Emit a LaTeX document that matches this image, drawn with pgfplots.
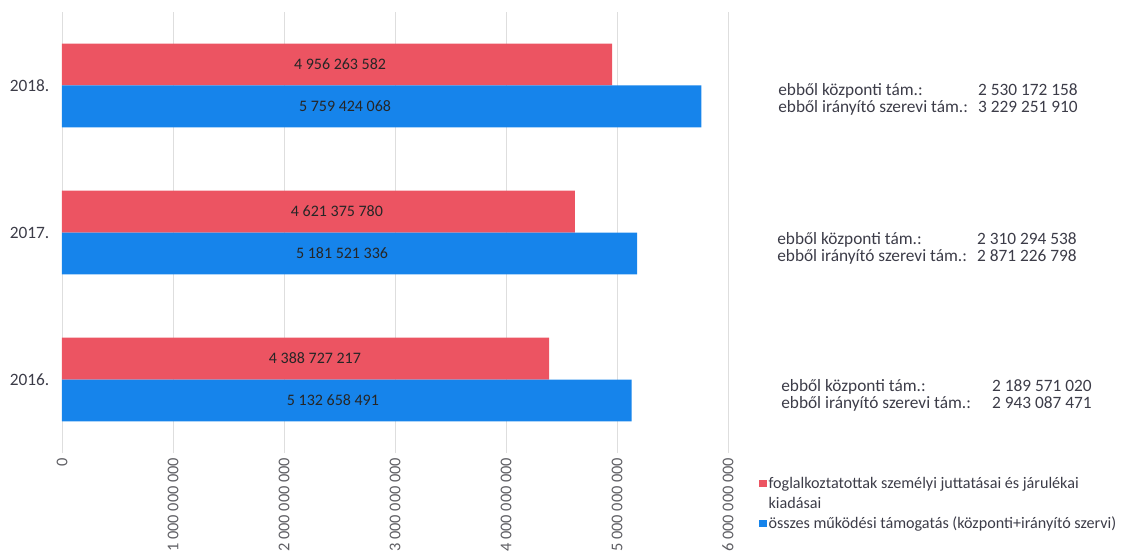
\documentclass[border=0pt]{standalone}
\usepackage{pgfplots}
\pgfplotsset{compat=1.18}
\usepackage{fontspec}
\setmainfont{Carlito}
\definecolor{barred}{RGB}{236,84,98}
\definecolor{barblue}{RGB}{22,132,235}
\definecolor{gridc}{RGB}{222,222,222}
\definecolor{txt}{RGB}{60,60,72}
\definecolor{ticktxt}{RGB}{95,95,100}
\begin{document}
\begin{tikzpicture}
\path[use as bounding box] (0pt,0pt) rectangle (842.25pt,415.5pt);
\begin{axis}[
  at={(46.5pt,75.75pt)}, anchor=south west, scale only axis,
  width=499.5pt, height=330.75pt,
  xmin=0, xmax=6e9, ymin=-0.5, ymax=2.5,
  axis line style={draw=none},
  scaled x ticks=false,
  xtick={0,1e9,2e9,3e9,4e9,5e9,6e9},
  xticklabels={0,1 000 000 000,2 000 000 000,3 000 000 000,4 000 000 000,5 000 000 000,6 000 000 000},
  x tick label style={rotate=90, anchor=east, font=\fontsize{12.3}{14}\selectfont, text=ticktxt},
  ytick={0,1,2}, yticklabels={2016.,2017.,2018.},
  y tick label style={font=\fontsize{13}{15}\selectfont, text=txt, xshift=-6pt},
  major tick length=0pt,
  xmajorgrids, grid style={gridc, line width=0.6pt},
  legend style={draw=none, fill=none, at={(1.0465,-0.05)}, anchor=north west, inner sep=0pt,
    cells={anchor=west}, nodes={inner xsep=1.5pt, inner ysep=1.5pt},
    font=\fontsize{12.1}{14}\selectfont, text=txt, row sep=2pt},
]
\addplot[xbar, bar width=0.285, bar shift=0.1425, fill=barred, draw=none,
  legend image code/.code={\fill[barred] (0pt,-2.6pt) rectangle (5.5pt,2.6pt);}]
  coordinates {(4388727217,0) (4621375780,1) (4956263582,2)};
\addlegendentry{foglalkoztatottak személyi juttatásai és járulékai}
\addlegendimage{empty legend}
\addlegendentry{kiadásai}
\addplot[xbar, bar width=0.285, bar shift=-0.1425, fill=barblue, draw=none,
  legend image code/.code={\fill[barblue] (0pt,-2.6pt) rectangle (5.5pt,2.6pt);}]
  coordinates {(5132658491,0) (5181521336,1) (5759424068,2)};
\addlegendentry{összes működési támogatás (központi+irányító szervi)}
\addplot[draw=none, mark=none, forget plot, nodes near coords, point meta=explicit symbolic,
  nodes near coords style={anchor=center, font=\fontsize{12}{14}\selectfont, text=black!85}]
  coordinates {(2.279e9,0.1425) [4 388 727 217] (2.477e9,1.1425) [4 621 375 780] (2.505e9,2.1425) [4 956 263 582]
               (2.441e9,-0.1425) [5 132 658 491] (2.523e9,0.8575) [5 181 521 336] (2.55e9,1.8575) [5 759 424 068]};
\end{axis}
\begin{scope}[x=0.75pt,y=0.75pt,font=\fontsize{13}{15}\selectfont, text=txt]
\node[anchor=base west, inner sep=0] at (778,458) {ebből központi tám.:};
\node[anchor=base west, inner sep=0] at (778,441) {ebből irányító szerevi tám.:};
\node[anchor=base east, inner sep=0] at (1078,458) {2 530 172 158};
\node[anchor=base east, inner sep=0] at (1078,441) {3 229 251 910};
\node[anchor=base west, inner sep=0] at (777,310) {ebből központi tám.:};
\node[anchor=base west, inner sep=0] at (777,293) {ebből irányító szerevi tám.:};
\node[anchor=base east, inner sep=0] at (1077,310) {2 310 294 538};
\node[anchor=base east, inner sep=0] at (1077,293) {2 871 226 798};
\node[anchor=base west, inner sep=0] at (781,163) {ebből központi tám.:};
\node[anchor=base west, inner sep=0] at (781,146) {ebből irányító szerevi tám.:};
\node[anchor=base east, inner sep=0] at (1092,163) {2 189 571 020};
\node[anchor=base east, inner sep=0] at (1092,146) {2 943 087 471};
\end{scope}
\end{tikzpicture}
\end{document}
